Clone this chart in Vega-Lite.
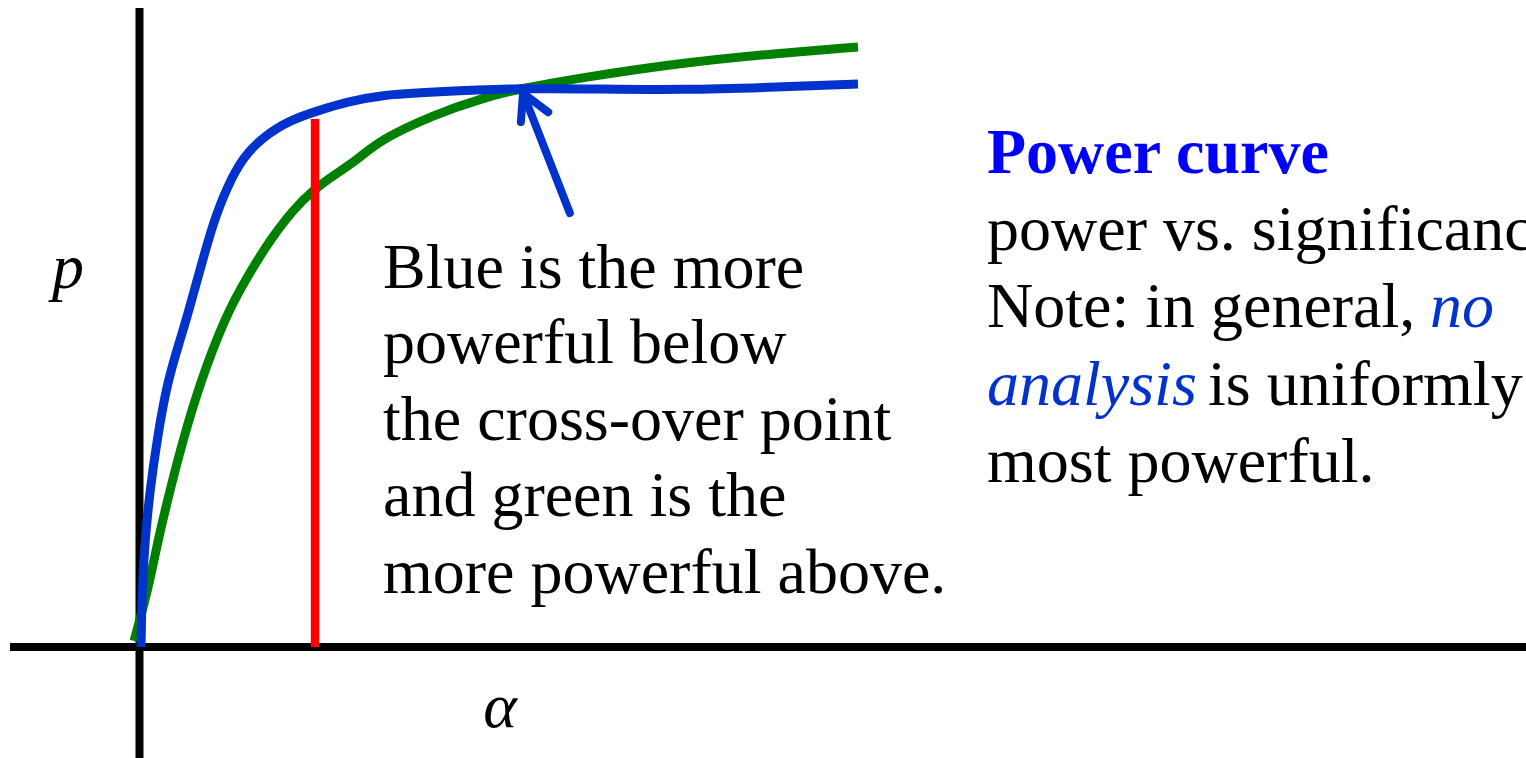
{
  "$schema": "https://vega.github.io/schema/vega-lite/v6.json",
  "autosize": "none",
  "width": 1526,
  "height": 758,
  "padding": 0,
  "background": "white",
  "config": {"view": {"stroke": null}},
  "datasets": {
    "axes": [
      {"x": -0.1806, "y": 0, "x2": 1.925, "y2": 0},
      {"x": -0.0007, "y": 1.141, "x2": -0.0007, "y2": -0.1982}
    ],
    "green": [
      {"alpha": -0.0083, "power": 0.0107},
      {"alpha": 0.0111, "power": 0.1018},
      {"alpha": 0.025, "power": 0.1911},
      {"alpha": 0.0417, "power": 0.2804},
      {"alpha": 0.0597, "power": 0.3696},
      {"alpha": 0.0833, "power": 0.4714},
      {"alpha": 0.1181, "power": 0.5893},
      {"alpha": 0.1486, "power": 0.6607},
      {"alpha": 0.1806, "power": 0.7268},
      {"alpha": 0.2125, "power": 0.7804},
      {"alpha": 0.2403, "power": 0.8161},
      {"alpha": 0.2736, "power": 0.8464},
      {"alpha": 0.3014, "power": 0.8696},
      {"alpha": 0.3333, "power": 0.9054},
      {"alpha": 0.4069, "power": 0.95},
      {"alpha": 0.4764, "power": 0.9804},
      {"alpha": 0.5319, "power": 0.9982},
      {"alpha": 0.6111, "power": 1.0161},
      {"alpha": 0.75, "power": 1.0429},
      {"alpha": 0.8889, "power": 1.0607},
      {"alpha": 0.9972, "power": 1.0714}
    ],
    "blue": [
      {"alpha": 0.0014, "power": 0.0},
      {"alpha": 0.0028, "power": 0.1018},
      {"alpha": 0.0069, "power": 0.1911},
      {"alpha": 0.0139, "power": 0.2804},
      {"alpha": 0.0236, "power": 0.3696},
      {"alpha": 0.0375, "power": 0.4714},
      {"alpha": 0.0556, "power": 0.5482},
      {"alpha": 0.0653, "power": 0.5893},
      {"alpha": 0.0833, "power": 0.6732},
      {"alpha": 0.1014, "power": 0.7571},
      {"alpha": 0.1208, "power": 0.8214},
      {"alpha": 0.1431, "power": 0.875},
      {"alpha": 0.1708, "power": 0.9107},
      {"alpha": 0.2083, "power": 0.9411},
      {"alpha": 0.25, "power": 0.9589},
      {"alpha": 0.2875, "power": 0.9732},
      {"alpha": 0.3333, "power": 0.9857},
      {"alpha": 0.4069, "power": 0.9911},
      {"alpha": 0.5319, "power": 0.9982},
      {"alpha": 0.6389, "power": 0.9964},
      {"alpha": 0.75, "power": 0.9946},
      {"alpha": 0.8889, "power": 1.0},
      {"alpha": 0.9972, "power": 1.0054}
    ],
    "cutoff": [
      {"x": 0.2431, "y": 0, "x2": 0.2431, "y2": 0.9429}
    ],
    "arrow": [
      {"x": 0.597, "y": 0.775, "x2": 0.532, "y2": 0.989},
      {"x": 0.532, "y": 0.989, "x2": 0.529, "y2": 0.9375},
      {"x": 0.532, "y": 0.989, "x2": 0.567, "y2": 0.955}
    ],
    "labels": [
      {"x": 0.3375, "y": 0.6411, "text": "Blue is the more"},
      {"x": 0.3375, "y": 0.5071, "text": "powerful below"},
      {"x": 0.3375, "y": 0.3696, "text": "the cross-over point"},
      {"x": 0.3375, "y": 0.2339, "text": "and green is the"},
      {"x": 0.3375, "y": 0.0964, "text": "more powerful above."},
      {"x": 1.1764, "y": 0.7089, "text": "power vs. significance"},
      {"x": 1.1764, "y": 0.5714, "text": "Note: in general,"},
      {"x": 1.4833, "y": 0.4321, "text": "is uniformly"},
      {"x": 1.1764, "y": 0.2946, "text": "most powerful."}
    ],
    "emphasis": [
      {"x": 1.7917, "y": 0.5714, "text": "no"},
      {"x": 1.1764, "y": 0.4321, "text": "analysis"}
    ],
    "heading": [
      {"x": 1.1764, "y": 0.8464, "text": "Power curve"}
    ],
    "axisnames": [
      {"x": -0.1, "y": 0.641, "text": "p"},
      {"x": 0.5, "y": -0.1429, "text": "α"}
    ]
  },
  "layer": [
    {
      "data": {"name": "axes"},
      "mark": {"type": "rule", "color": "black", "strokeWidth": 8},
      "encoding": {
        "x": {"field": "x", "type": "quantitative", "scale": {"domain": [-0.194444, 1.925], "nice": false, "zero": false}, "axis": null},
        "y": {"field": "y", "type": "quantitative", "scale": {"domain": [-0.198214, 1.155357], "nice": false, "zero": false}, "axis": null},
        "x2": {"field": "x2"},
        "y2": {"field": "y2"}
      }
    },
    {
      "data": {"name": "green"},
      "mark": {"type": "line", "color": "#008000", "strokeWidth": 9, "interpolate": "basis", "strokeCap": "butt"},
      "encoding": {
        "x": {"field": "alpha", "type": "quantitative", "scale": {"domain": [-0.194444, 1.925], "nice": false, "zero": false}, "axis": null},
        "y": {"field": "power", "type": "quantitative", "scale": {"domain": [-0.198214, 1.155357], "nice": false, "zero": false}, "axis": null}
      }
    },
    {
      "data": {"name": "cutoff"},
      "mark": {"type": "rule", "color": "#ff0000", "strokeWidth": 8.5, "strokeCap": "butt"},
      "encoding": {
        "x": {"field": "x", "type": "quantitative", "scale": {"domain": [-0.194444, 1.925], "nice": false, "zero": false}, "axis": null},
        "y": {"field": "y", "type": "quantitative", "scale": {"domain": [-0.198214, 1.155357], "nice": false, "zero": false}, "axis": null},
        "x2": {"field": "x2"},
        "y2": {"field": "y2"}
      }
    },
    {
      "data": {"name": "blue"},
      "mark": {"type": "line", "color": "#0033cc", "strokeWidth": 9, "interpolate": "basis", "strokeCap": "butt"},
      "encoding": {
        "x": {"field": "alpha", "type": "quantitative", "scale": {"domain": [-0.194444, 1.925], "nice": false, "zero": false}, "axis": null},
        "y": {"field": "power", "type": "quantitative", "scale": {"domain": [-0.198214, 1.155357], "nice": false, "zero": false}, "axis": null}
      }
    },
    {
      "data": {"name": "arrow"},
      "mark": {"type": "rule", "color": "#0033cc", "strokeWidth": 8, "strokeCap": "round"},
      "encoding": {
        "x": {"field": "x", "type": "quantitative", "scale": {"domain": [-0.194444, 1.925], "nice": false, "zero": false}, "axis": null},
        "y": {"field": "y", "type": "quantitative", "scale": {"domain": [-0.198214, 1.155357], "nice": false, "zero": false}, "axis": null},
        "x2": {"field": "x2"},
        "y2": {"field": "y2"}
      }
    },
    {
      "data": {"name": "labels"},
      "mark": {"type": "text", "font": "Liberation Serif", "fontSize": 64, "color": "black", "align": "left", "baseline": "alphabetic", "clip": true},
      "encoding": {
        "x": {"field": "x", "type": "quantitative", "scale": {"domain": [-0.194444, 1.925], "nice": false, "zero": false}, "axis": null},
        "y": {"field": "y", "type": "quantitative", "scale": {"domain": [-0.198214, 1.155357], "nice": false, "zero": false}, "axis": null},
        "text": {"field": "text"}
      }
    },
    {
      "data": {"name": "emphasis"},
      "mark": {"type": "text", "font": "Liberation Serif", "fontSize": 64, "fontStyle": "italic", "color": "#0033cc", "align": "left", "baseline": "alphabetic", "clip": true},
      "encoding": {
        "x": {"field": "x", "type": "quantitative", "scale": {"domain": [-0.194444, 1.925], "nice": false, "zero": false}, "axis": null},
        "y": {"field": "y", "type": "quantitative", "scale": {"domain": [-0.198214, 1.155357], "nice": false, "zero": false}, "axis": null},
        "text": {"field": "text"}
      }
    },
    {
      "data": {"name": "heading"},
      "mark": {"type": "text", "font": "Liberation Serif", "fontSize": 64, "fontWeight": "bold", "color": "#0000ff", "align": "left", "baseline": "alphabetic", "clip": true},
      "encoding": {
        "x": {"field": "x", "type": "quantitative", "scale": {"domain": [-0.194444, 1.925], "nice": false, "zero": false}, "axis": null},
        "y": {"field": "y", "type": "quantitative", "scale": {"domain": [-0.198214, 1.155357], "nice": false, "zero": false}, "axis": null},
        "text": {"field": "text"}
      }
    },
    {
      "data": {"name": "axisnames"},
      "mark": {"type": "text", "font": "Liberation Serif", "fontSize": 64, "fontStyle": "italic", "color": "black", "align": "center", "baseline": "alphabetic"},
      "encoding": {
        "x": {"field": "x", "type": "quantitative", "scale": {"domain": [-0.194444, 1.925], "nice": false, "zero": false}, "axis": null},
        "y": {"field": "y", "type": "quantitative", "scale": {"domain": [-0.198214, 1.155357], "nice": false, "zero": false}, "axis": null},
        "text": {"field": "text"}
      }
    }
  ]
}
